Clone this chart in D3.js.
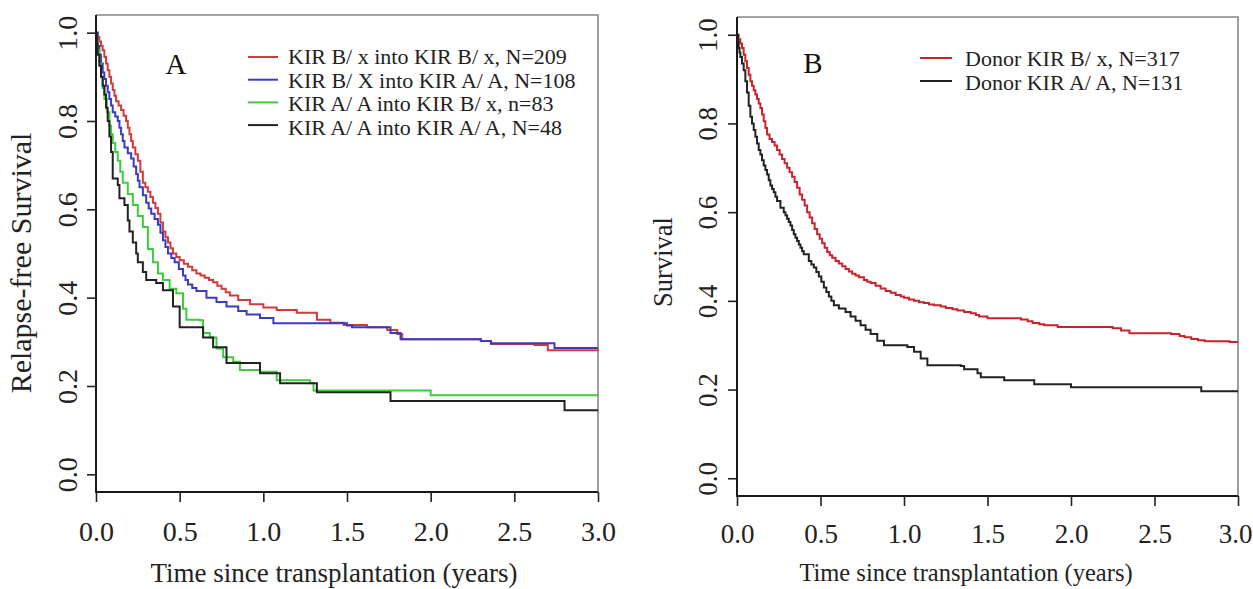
<!DOCTYPE html>
<html>
<head>
<meta charset="utf-8">
<script src="https://cdn.jsdelivr.net/npm/d3@7"></script>
<style>
  body { margin: 0; background: #fff; }
  svg { display: block; }
</style>
</head>
<body>
<script>
// Axis ticks shared by both panels
var timeTicks = [0, 0.5, 1, 1.5, 2, 2.5, 3];
var survTicks = [0, 0.2, 0.4, 0.6, 0.8, 1.0];

// Panel A legend labels
var aLabels = [
  "KIR B/ x into KIR B/ x, N=209",
  "KIR B/ X into KIR A/ A, N=108",
  "KIR A/ A into KIR B/ x, n=83",
  "KIR A/ A into KIR A/ A, N=48"
];

// Panel A curves: [years, relapse-free survival]
var aBxIntoBx = [[0,1.0],[0.01,0.99],[0.02,0.98],[0.03,0.97],[0.04,0.96],[0.05,0.945],[0.06,0.93],
  [0.07,0.915],[0.08,0.90],[0.09,0.885],[0.10,0.87],[0.11,0.857],[0.12,0.845],[0.135,0.835],[0.15,0.825],
  [0.165,0.812],[0.18,0.80],[0.19,0.785],[0.20,0.77],[0.21,0.755],[0.22,0.74],[0.235,0.725],[0.25,0.71],
  [0.265,0.685],[0.28,0.66],[0.295,0.65],[0.31,0.64],[0.325,0.628],[0.34,0.615],[0.355,0.603],[0.37,0.59],
  [0.385,0.57],[0.40,0.55],[0.415,0.537],[0.43,0.525],[0.445,0.512],[0.46,0.50],[0.48,0.492],[0.50,0.485],
  [0.525,0.477],[0.55,0.47],[0.575,0.462],[0.60,0.455],[0.625,0.45],[0.65,0.445],[0.675,0.44],[0.70,0.435],
  [0.725,0.427],[0.75,0.42],[0.775,0.412],[0.80,0.405],[0.85,0.395],[0.92,0.385],[1.0,0.378],[1.08,0.372],
  [1.20,0.366],[1.32,0.35],[1.40,0.343],[1.48,0.338],[1.62,0.333],[1.74,0.327],[1.80,0.318],[1.83,0.306],
  [2.30,0.302],[2.36,0.295],[2.62,0.293],[2.70,0.281],[3.0,0.279]];
var aBxIntoAA = [[0,1.0],[0.01,0.97],[0.02,0.95],[0.03,0.93],[0.04,0.91],[0.05,0.895],[0.06,0.88],
  [0.07,0.865],[0.08,0.85],[0.09,0.835],[0.10,0.82],[0.115,0.81],[0.13,0.80],[0.14,0.785],[0.15,0.77],
  [0.16,0.755],[0.17,0.74],[0.19,0.727],[0.21,0.715],[0.225,0.697],[0.24,0.68],[0.25,0.665],[0.26,0.65],
  [0.28,0.632],[0.30,0.615],[0.315,0.602],[0.33,0.59],[0.35,0.578],[0.37,0.565],[0.385,0.547],[0.40,0.53],
  [0.415,0.515],[0.43,0.50],[0.45,0.49],[0.47,0.48],[0.495,0.465],[0.52,0.45],[0.535,0.44],[0.55,0.43],
  [0.575,0.422],[0.60,0.415],[0.66,0.40],[0.72,0.39],[0.78,0.38],[0.85,0.37],[0.90,0.362],[0.98,0.354],
  [1.06,0.342],[1.50,0.337],[1.53,0.333],[1.76,0.32],[1.82,0.306],[2.30,0.302],[2.36,0.297],[2.74,0.286],
  [3.0,0.286]];
var aAAIntoBx = [[0,1.0],[0.005,0.98],[0.01,0.96],[0.02,0.93],[0.03,0.90],[0.04,0.875],[0.05,0.85],
  [0.065,0.82],[0.08,0.79],[0.09,0.77],[0.10,0.75],[0.115,0.73],[0.13,0.71],[0.145,0.685],[0.16,0.66],
  [0.19,0.635],[0.22,0.61],[0.25,0.585],[0.28,0.56],[0.31,0.51],[0.34,0.48],[0.37,0.455],[0.40,0.44],
  [0.44,0.42],[0.48,0.41],[0.52,0.375],[0.54,0.35],[0.62,0.349],[0.64,0.32],[0.68,0.31],[0.72,0.285],
  [0.76,0.265],[0.82,0.255],[0.86,0.236],[0.98,0.232],[1.08,0.213],[1.28,0.206],[1.30,0.19],[1.98,0.19],
  [2.0,0.179],[3.0,0.179]];
var aAAIntoAA = [[0,1.0],[0.005,0.975],[0.01,0.95],[0.02,0.925],[0.03,0.90],[0.04,0.88],[0.05,0.86],
  [0.06,0.83],[0.07,0.80],[0.08,0.765],[0.09,0.73],[0.10,0.67],[0.13,0.655],[0.14,0.625],[0.17,0.61],
  [0.19,0.575],[0.20,0.55],[0.22,0.525],[0.24,0.50],[0.25,0.48],[0.28,0.458],[0.30,0.44],[0.36,0.433],
  [0.40,0.417],[0.46,0.38],[0.50,0.333],[0.60,0.333],[0.64,0.31],[0.70,0.288],[0.78,0.252],[0.92,0.252],
  [0.98,0.229],[1.08,0.229],[1.10,0.206],[1.30,0.206],[1.32,0.186],[1.75,0.186],[1.76,0.166],[2.78,0.166],
  [2.80,0.145],[3.0,0.145]];

// Panel B legend labels
var bLabels = ["Donor KIR B/ x, N=317", "Donor KIR A/ A, N=131"];

// Panel B curves: [years, survival]
var bDonorBx = [[0,1.0],[0.01,0.99],[0.02,0.98],[0.03,0.97],[0.04,0.955],[0.05,0.94],[0.06,0.925],
  [0.07,0.91],[0.08,0.895],[0.09,0.885],[0.10,0.875],[0.11,0.865],[0.12,0.855],[0.13,0.845],[0.14,0.835],
  [0.15,0.82],[0.16,0.805],[0.17,0.79],[0.18,0.775],[0.195,0.765],[0.21,0.758],[0.225,0.75],[0.24,0.74],
  [0.255,0.73],[0.27,0.72],[0.285,0.71],[0.30,0.70],[0.315,0.69],[0.33,0.68],[0.345,0.668],[0.36,0.655],
  [0.375,0.64],[0.39,0.628],[0.405,0.615],[0.42,0.60],[0.435,0.588],[0.45,0.575],[0.465,0.562],[0.48,0.55],
  [0.495,0.54],[0.51,0.53],[0.525,0.52],[0.54,0.51],[0.555,0.503],[0.57,0.497],[0.59,0.49],[0.61,0.484],
  [0.63,0.478],[0.65,0.472],[0.67,0.466],[0.69,0.461],[0.71,0.457],[0.73,0.453],[0.76,0.447],[0.78,0.443],
  [0.80,0.44],[0.83,0.434],[0.86,0.428],[0.89,0.422],[0.92,0.418],[0.95,0.413],[0.98,0.41],[1.00,0.407],
  [1.03,0.403],[1.06,0.40],[1.09,0.397],[1.12,0.395],[1.15,0.392],[1.18,0.39],[1.22,0.387],[1.25,0.384],
  [1.29,0.381],[1.32,0.378],[1.36,0.375],[1.40,0.372],[1.43,0.368],[1.45,0.365],[1.50,0.361],[1.70,0.358],
  [1.74,0.354],[1.77,0.35],[1.81,0.347],[1.84,0.345],[1.92,0.341],[2.25,0.338],[2.30,0.333],[2.35,0.327],
  [2.60,0.325],[2.65,0.321],[2.68,0.318],[2.72,0.314],[2.76,0.311],[2.80,0.309],[2.95,0.307],[3.0,0.307]];
var bDonorAA = [[0,1.0],[0.005,0.985],[0.01,0.97],[0.015,0.96],[0.02,0.95],[0.03,0.935],[0.04,0.92],
  [0.05,0.895],[0.06,0.87],[0.07,0.84],[0.08,0.815],[0.09,0.80],[0.10,0.785],[0.11,0.77],[0.12,0.755],
  [0.13,0.74],[0.14,0.73],[0.15,0.717],[0.16,0.705],[0.17,0.695],[0.18,0.685],[0.19,0.672],[0.20,0.66],
  [0.21,0.652],[0.22,0.645],[0.23,0.635],[0.24,0.625],[0.26,0.61],[0.28,0.60],[0.29,0.593],[0.30,0.585],
  [0.31,0.578],[0.32,0.57],[0.33,0.56],[0.34,0.55],[0.35,0.542],[0.36,0.535],[0.37,0.527],[0.38,0.52],
  [0.39,0.512],[0.40,0.505],[0.43,0.49],[0.445,0.482],[0.46,0.475],[0.475,0.465],[0.49,0.455],[0.505,0.443],
  [0.52,0.43],[0.535,0.42],[0.55,0.41],[0.565,0.40],[0.58,0.39],[0.61,0.383],[0.65,0.375],[0.68,0.365],
  [0.71,0.355],[0.74,0.345],[0.77,0.335],[0.80,0.325],[0.84,0.31],[0.88,0.30],[1.02,0.296],[1.06,0.285],
  [1.10,0.27],[1.14,0.255],[1.34,0.253],[1.36,0.246],[1.44,0.237],[1.46,0.228],[1.58,0.228],[1.60,0.221],
  [1.76,0.221],[1.78,0.212],[1.98,0.212],[2.0,0.205],[2.76,0.205],[2.78,0.196],[3.0,0.196]];

var serif = "'Liberation Serif', 'Times New Roman', serif";

var svg = d3.select("body")
  .append("svg")
  .attr("width", 1253)
  .attr("height", 589);

function drawPanel(p) {
  var x = d3.scaleLinear().domain([0, 3]).range([p.left, p.right]);
  var y = d3.scaleLinear().domain([-0.04, 1.04]).range([p.bottom, p.top]);
  var g = svg.append("g");

  // grey top / right frame
  g.append("path")
    .attr("d", "M" + p.left + "," + p.top + "H" + p.right + "V" + p.bottom)
    .attr("fill", "none")
    .attr("stroke", "#858585")
    .attr("stroke-width", 1.6);

  var line = d3.line()
    .x(function(d) { return x(d[0]); })
    .y(function(d) { return y(d[1]); })
    .curve(d3.curveStepAfter);

  p.series.forEach(function(s, i) {
    g.append("path")
      .datum(s)
      .attr("fill", "none")
      .attr("stroke", p.colors[i])
      .attr("stroke-width", 2)
      .attr("d", line);
  });

  // black left / bottom frame
  g.append("path")
    .attr("d", "M" + p.left + "," + p.top + "V" + p.bottom + "H" + p.right)
    .attr("fill", "none")
    .attr("stroke", "#1a1a1a")
    .attr("stroke-width", 2);

  var yAxis = g.append("g")
    .attr("transform", "translate(" + p.left + ",0)")
    .call(d3.axisLeft(y).tickValues(survTicks).tickFormat(d3.format(".1f")).tickSize(9).tickSizeOuter(0));
  yAxis.select(".domain").remove();
  yAxis.attr("font-family", serif).attr("font-size", p.tickFont).attr("color", "#222");
  yAxis.selectAll("line").attr("stroke-width", 1.6);
  yAxis.selectAll("text")
    .attr("transform", "rotate(-90)")
    .attr("x", 0)
    .attr("y", -p.yLabOff)
    .attr("dy", 0)
    .attr("text-anchor", "middle")
    .attr("fill", "#222");

  var xAxis = g.append("g")
    .attr("transform", "translate(0," + p.bottom + ")")
    .call(d3.axisBottom(x).tickValues(timeTicks).tickFormat(d3.format(".1f")).tickSize(10).tickSizeOuter(0));
  xAxis.select(".domain").remove();
  xAxis.attr("font-family", serif).attr("font-size", p.tickFont).attr("color", "#222");
  xAxis.selectAll("line").attr("stroke-width", 1.6);
  xAxis.selectAll("text")
    .attr("y", p.xLabOff)
    .attr("dy", 0)
    .attr("x", function(d) { return d === 3 ? -p.lastShift : 0; })
    .attr("fill", "#222");

  // axis titles
  g.append("text")
    .attr("x", p.xTitleX)
    .attr("y", p.xTitleY)
    .attr("text-anchor", "middle")
    .attr("font-family", serif)
    .attr("font-size", p.xTitleFont)
    .attr("fill", "#222")
    .text("Time since transplantation (years)");

  g.append("text")
    .attr("transform", "translate(" + p.yTitleX + "," + p.yTitleY + ") rotate(-90)")
    .attr("text-anchor", "middle")
    .attr("font-family", serif)
    .attr("font-size", p.yTitleFont)
    .attr("fill", "#222")
    .text(p.yTitle);

  // panel letter
  g.append("text")
    .attr("x", p.tagX)
    .attr("y", p.tagY)
    .attr("text-anchor", "middle")
    .attr("font-family", serif)
    .attr("font-size", 29)
    .attr("fill", "#111")
    .text(p.tag);

  // legend
  var leg = g.selectAll(".leg")
    .data(p.labels)
    .enter()
    .append("g");
  leg.append("line")
    .attr("x1", p.legX1)
    .attr("x2", p.legX2)
    .attr("y1", function(d, i) { return p.legY + i * p.legLineStep; })
    .attr("y2", function(d, i) { return p.legY + i * p.legLineStep; })
    .attr("stroke", function(d, i) { return p.colors[i]; })
    .attr("stroke-width", 2);
  leg.append("text")
    .attr("x", p.legTx)
    .attr("y", function(d, i) { return p.legTextY + i * p.legTextStep; })
    .attr("font-family", serif)
    .attr("font-size", 22)
    .attr("fill", "#222")
    .text(function(d) { return d; });
}

drawPanel({
  left: 96, right: 598, top: 15, bottom: 492,
  series: [aBxIntoBx, aBxIntoAA, aAAIntoBx, aAAIntoAA],
  colors: ["#d23a3a", "#3a3ac4", "#3ccc3c", "#222222"],
  labels: aLabels,
  tickFont: 28, yLabOff: 19, xLabOff: 49, lastShift: 0,
  xTitleX: 334, xTitleY: 582, xTitleFont: 27,
  yTitle: "Relapse-free Survival", yTitleX: 31, yTitleY: 263, yTitleFont: 30,
  tag: "A", tagX: 176, tagY: 74,
  legX1: 248, legX2: 278, legY: 57, legLineStep: 22.7,
  legTx: 288, legTextY: 64, legTextStep: 23.6
});

drawPanel({
  left: 737, right: 1238, top: 17, bottom: 496,
  series: [bDonorBx, bDonorAA],
  colors: ["#c8222c", "#222222"],
  labels: bLabels,
  tickFont: 27, yLabOff: 20, xLabOff: 47, lastShift: 3,
  xTitleX: 966, xTitleY: 581, xTitleFont: 24.5,
  yTitle: "Survival", yTitleX: 672, yTitleY: 262, yTitleFont: 26.5,
  tag: "B", tagX: 813, tagY: 73,
  legX1: 920, legX2: 952, legY: 58, legLineStep: 23,
  legTx: 965, legTextY: 66, legTextStep: 24
});
</script>
</body>
</html>
